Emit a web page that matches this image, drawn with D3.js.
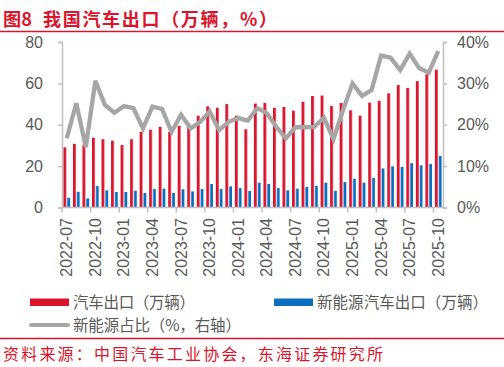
<!DOCTYPE html>
<html><head><meta charset="utf-8">
<script src="https://cdn.jsdelivr.net/npm/d3@7"></script>
<style>
html,body{margin:0;padding:0;background:#fff;}
svg{display:block;}
</style></head>
<body><svg id="c" width="504" height="367"></svg>
<script>
const months = ["2022-07","2022-08","2022-09","2022-10","2022-11","2022-12",
"2023-01","2023-02","2023-03","2023-04","2023-05","2023-06","2023-07","2023-08","2023-09","2023-10","2023-11","2023-12",
"2024-01","2024-02","2024-03","2024-04","2024-05","2024-06","2024-07","2024-08","2024-09","2024-10","2024-11","2024-12",
"2025-01","2025-02","2025-03","2025-04","2025-05","2025-06","2025-07","2025-08","2025-09","2025-10"];
const autoExport = [29.1,30.8,30.2,33.7,33.0,32.3,30.2,33.0,36.6,37.6,39.0,36.6,39.4,40.7,44.4,48.9,48.2,50.0,
44.4,37.8,50.2,50.5,48.2,48.6,46.8,51.1,53.9,54.1,49.1,50.5,47.0,44.4,50.7,51.6,55.2,59.2,57.8,61.1,64.4,66.6];
const nevExport = [4.7,7.6,4.4,10.4,8.3,7.5,7.5,8.1,7.0,8.9,9.1,7.0,8.8,7.8,8.9,11.4,8.9,10.2,
9.4,8.0,12.0,11.4,9.4,8.3,9.1,9.9,10.5,12.0,8.1,12.3,13.9,12.0,14.3,18.9,19.9,19.6,21.4,20.4,21.0,24.9];
const nevShare = [16.7,25.2,14.6,30.6,24.8,22.9,24.5,24.0,19.1,24.4,23.8,18.3,22.4,19.1,20.7,23.2,18.7,20.7,
21.6,21.0,24.0,22.8,19.5,16.7,19.4,19.4,19.5,21.7,16.5,23.5,30.0,27.0,28.4,36.7,36.2,33.2,37.2,33.7,32.6,37.8];
const leftTicks = [0,20,40,60,80];
const rightTicks = [0,10,20,30,40];
const xTickLabels = months.filter((m,i)=>i%3===0);

const RED="#d9142b", BLUE="#0b6fc1", GRAY="#a6a6a6", TXT="#595959", AX="#bfbfbf";
const NUMFONT="'Liberation Sans', Arial, sans-serif";
const CJK="'Noto Sans CJK SC', sans-serif";

const svg = d3.select("#c");
const defs = svg.append("defs");
const gr = defs.append("linearGradient").attr("id","gr").attr("x1","0").attr("x2","1");
gr.append("stop").attr("offset","0").attr("stop-color","#d60f28");
gr.append("stop").attr("offset","0.6").attr("stop-color","#dc1a32");
gr.append("stop").attr("offset","1").attr("stop-color","#f07a88");
const gb = defs.append("linearGradient").attr("id","gb").attr("x1","0").attr("x2","1");
gb.append("stop").attr("offset","0").attr("stop-color","#8cc0ec");
gb.append("stop").attr("offset","0.4").attr("stop-color","#0b6fc1");
gb.append("stop").attr("offset","1").attr("stop-color","#0b6fc1");

// title & rules
const tg = svg.append("g").attr("fill",RED).style("font-family",CJK).style("font-weight","bold").style("font-size","18px");
tg.append("text").attr("x",3).attr("y",25.5).attr("textLength",29).attr("lengthAdjust","spacingAndGlyphs").text("图8");
tg.append("text").attr("x",43).attr("y",25.5).attr("textLength",234).attr("lengthAdjust","spacing").text("我国汽车出口（万辆，%）");
svg.append("line").attr("x1",0).attr("x2",504).attr("y1",31.5).attr("y2",31.5).attr("stroke",RED).attr("stroke-width",1.5);

const L=62, R=443, T=42, B=207.5;
const x0 = d3.scaleBand().domain(months).range([L,R]).paddingInner(0.3).paddingOuter(0.15);
const x1 = d3.scaleBand().domain(["a","b"]).range([0,x0.bandwidth()]).paddingInner(0.12);
const yL = d3.scaleLinear().domain([0,80]).range([B,T]);
const yR = d3.scaleLinear().domain([0,40]).range([B,T]);

// bars
const g = svg.append("g");
g.selectAll("rect.r").data(months).join("rect").attr("class","r")
  .attr("x",d=>x0(d)+x1("a")).attr("width",x1.bandwidth())
  .attr("y",(d,i)=>yL(autoExport[i])).attr("height",(d,i)=>B-yL(autoExport[i]))
  .attr("fill","url(#gr)");
g.selectAll("rect.b").data(months).join("rect").attr("class","b")
  .attr("x",d=>x0(d)+x1("b")).attr("width",x1.bandwidth())
  .attr("y",(d,i)=>yL(nevExport[i])).attr("height",(d,i)=>B-yL(nevExport[i]))
  .attr("fill","url(#gb)");

// line
const line = d3.line().x((d,i)=>x0(months[i])+x0.bandwidth()/2).y(d=>yR(d));
svg.append("path").datum(nevShare).attr("d",line).attr("fill","none")
  .attr("stroke",GRAY).attr("stroke-width",4.3).attr("stroke-linejoin","miter").attr("stroke-miterlimit",3);

// axes
function styleAxis(sel){
  sel.select(".domain").attr("stroke",AX).attr("stroke-width",1.5);
  sel.selectAll(".tick line").attr("stroke",AX).attr("stroke-width",1.5);
  sel.selectAll("text").attr("fill",TXT).style("font-family",NUMFONT).style("font-size","16px");
}
const ay = svg.append("g").attr("transform",`translate(${L},0)`)
  .call(d3.axisLeft(yL).tickValues(leftTicks).tickSize(4).tickPadding(15).tickSizeOuter(4));
styleAxis(ay);
const ar = svg.append("g").attr("transform",`translate(${R},0)`)
  .call(d3.axisRight(yR).tickValues(rightTicks).tickSize(4).tickPadding(10).tickSizeOuter(4).tickFormat(d=>d+"%"));
styleAxis(ar);

const stepOff = x0.step()*x0.paddingInner()/2;
const ax = svg.append("g").attr("transform",`translate(0,${B})`);
ax.append("line").attr("x1",L).attr("x2",R).attr("y1",0).attr("y2",0).attr("stroke",AX).attr("stroke-width",1.5);
ax.selectAll("line.t").data(xTickLabels).join("line").attr("class","t")
  .attr("x1",d=>x0(d)-stepOff).attr("x2",d=>x0(d)-stepOff).attr("y1",0).attr("y2",5)
  .attr("stroke",AX).attr("stroke-width",1.5);
ax.selectAll("text").data(xTickLabels).join("text")
  .attr("transform",d=>`translate(${x0(d)+x0.bandwidth()/2+5.5},10.5) rotate(-90)`)
  .attr("text-anchor","end").attr("fill",TXT)
  .style("font-family",NUMFONT).style("font-size","16px").text(d=>d);

// legend
const lg = svg.append("g").style("font-family",CJK).style("font-size","15.5px");
lg.append("rect").attr("x",30).attr("y",298.5).attr("width",39).attr("height",7.5).attr("fill",RED);
lg.append("text").attr("x",73).attr("y",307.5).attr("fill",TXT).attr("textLength",122).attr("lengthAdjust","spacing").text("汽车出口（万辆）");
lg.append("rect").attr("x",274).attr("y",298.5).attr("width",39).attr("height",7.5).attr("fill",BLUE);
lg.append("text").attr("x",317).attr("y",307.5).attr("fill",TXT).attr("textLength",171).attr("lengthAdjust","spacing").text("新能源汽车出口（万辆）");
lg.append("line").attr("x1",31).attr("x2",68).attr("y1",325).attr("y2",325).attr("stroke",GRAY)
  .attr("stroke-width",4).attr("stroke-linecap","round");
lg.append("text").attr("x",73).attr("y",330.5).attr("fill",TXT).attr("textLength",168).attr("lengthAdjust","spacing").text("新能源占比（%，右轴）");

svg.append("line").attr("x1",0).attr("x2",504).attr("y1",338.5).attr("y2",338.5).attr("stroke",RED).attr("stroke-width",1.5);
svg.append("text").attr("x",3).attr("y",360).attr("fill",RED)
  .style("font-family",CJK).style("font-size","16px")
  .attr("textLength",380).attr("lengthAdjust","spacing")
  .text("资料来源：中国汽车工业协会，东海证券研究所");
</script></body></html>
